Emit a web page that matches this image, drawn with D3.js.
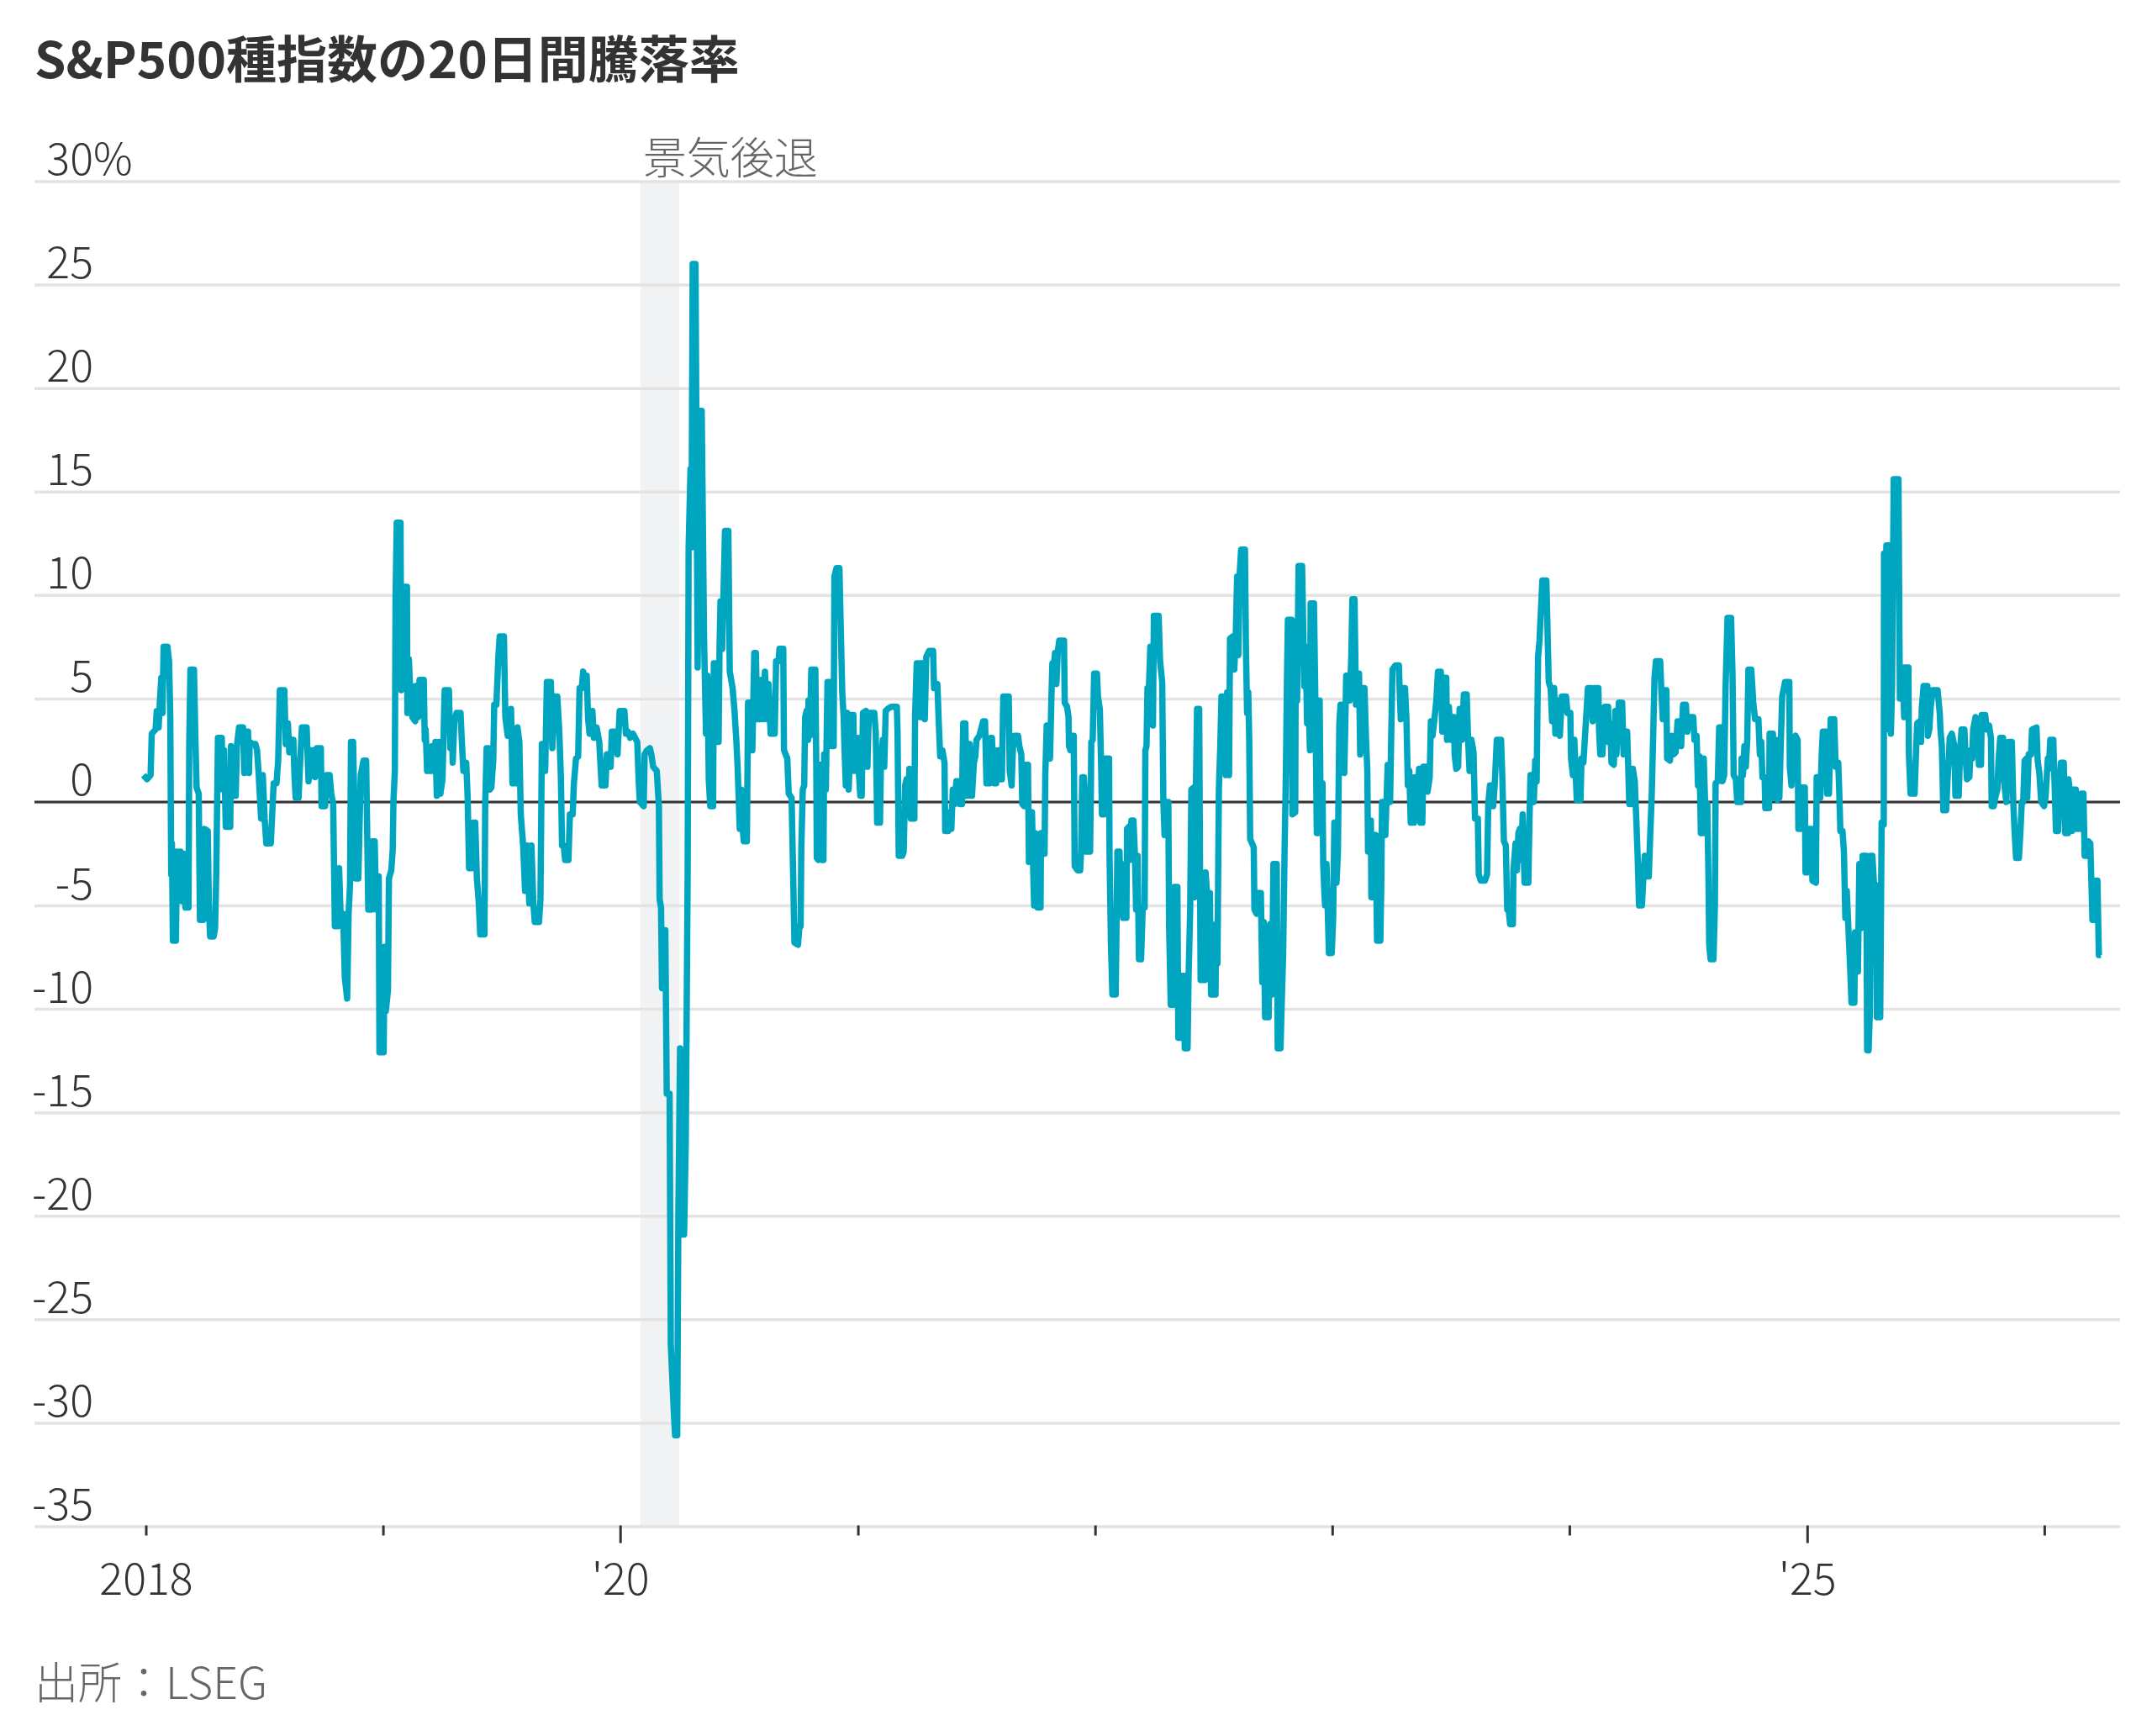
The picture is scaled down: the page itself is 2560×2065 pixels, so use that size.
<!DOCTYPE html>
<html><head><meta charset="utf-8">
<script src="https://cdn.jsdelivr.net/npm/d3@7"></script>
<style>
html,body{margin:0;padding:0;background:#fff;}
svg{display:block;}
text{font-family:'Noto Sans CJK JP','Noto Sans',sans-serif;}
</style></head>
<body>
<script>
// ---- DATA (decimal years, 20-day % change) ----
const dates = [
2017.990,2018.005,2018.020,2018.025,2018.041,2018.046,2018.054,2018.058,2018.065,2018.070,
2018.075,2018.091,2018.098,2018.103,2018.107,2018.110,2018.114,2018.127,2018.131,2018.138,
2018.146,2018.153,2018.159,2018.167,2018.180,2018.183,2018.188,2018.203,2018.209,2018.214,
2018.223,2018.228,2018.242,2018.247,2018.261,2018.266,2018.271,2018.286,2018.292,2018.297,
2018.304,2018.320,2018.325,2018.330,2018.337,2018.356,2018.359,2018.365,2018.379,2018.384,
2018.393,2018.410,2018.415,2018.419,2018.431,2018.435,2018.438,2018.450,2018.462,2018.469,
2018.476,2018.486,2018.493,2018.501,2018.508,2018.527,2018.532,2018.539,2018.551,2018.558,
2018.565,2018.584,2018.590,2018.599,2018.605,2018.611,2018.622,2018.627,2018.632,2018.644,
2018.651,2018.658,2018.678,2018.686,2018.698,2018.707,2018.713,2018.721,2018.738,2018.741,
2018.756,2018.762,2018.775,2018.782,2018.790,2018.797,2018.811,2018.815,2018.821,2018.832,
2018.839,2018.849,2018.855,2018.861,2018.865,2018.874,2018.880,2018.884,2018.896,2018.906,
2018.918,2018.929,
2018.938,2018.952,2018.956,2018.965,2018.971,2018.976,2018.982,2018.985,2019.003,2019.006,
2019.012,2019.021,2019.025,2019.035,2019.041,2019.044,2019.050,2019.053,2019.058,2019.074,
2019.077,2019.083,2019.101,2019.103,2019.109,2019.115,2019.124,2019.136,2019.138,2019.148,
2019.154,2019.172,2019.176,2019.180,2019.186,2019.203,2019.207,2019.215,2019.221,2019.227,
2019.235,2019.242,2019.251,2019.260,2019.278,2019.284,2019.290,2019.294,2019.301,2019.310,
2019.327,2019.333,2019.339,2019.351,2019.357,2019.363,2019.375,2019.381,2019.389,2019.396,
2019.404,2019.410,2019.428,2019.431,2019.437,2019.445,2019.451,2019.457,2019.465,2019.469,
2019.478,2019.487,2019.492,2019.510,2019.516,2019.526,2019.540,2019.546,2019.564,2019.567,
2019.575,2019.581,2019.591,2019.599,2019.608,2019.617,2019.626,2019.634,2019.640,2019.658,
2019.664,2019.670,2019.678,2019.684,2019.691,2019.708,2019.714,2019.723,2019.735,2019.743,
2019.750,2019.755,2019.762,2019.768,2019.782,2019.788,2019.800,2019.805,2019.814,2019.823,
2019.829,2019.838,2019.844,
2019.847,2019.859,2019.865,2019.871,2019.883,2019.889,2019.901,2019.912,2019.922,2019.938,
2019.944,2019.954,2019.960,2019.965,2019.983,2019.989,2019.998,2020.018,2020.024,2020.033,
2020.042,2020.054,2020.063,2020.072,2020.078,2020.083,2020.099,2020.103,2020.113,2020.125,
2020.131,2020.139,2020.154,2020.163,2020.166,2020.172,2020.176,2020.186,2020.190,2020.196,
2020.208,2020.213,2020.225,2020.231,2020.240,2020.245,2020.252,2020.260,2020.269,2020.276,
2020.284,2020.288,2020.296,2020.300,2020.305,2020.317,2020.326,2020.335,2020.343,2020.353,
2020.361,2020.367,2020.373,2020.379,2020.391,2020.394,2020.408,2020.414,2020.418,2020.422,
2020.429,2020.441,2020.455,2020.461,2020.473,2020.481,2020.489,2020.494,2020.503,2020.509,
2020.514,2020.520,2020.533,2020.538,2020.550,2020.556,2020.564,2020.571,2020.576,2020.585,
2020.591,2020.600,2020.609,2020.618,2020.624,2020.633,2020.650,2020.656,2020.666,2020.670,
2020.686,2020.689,2020.703,2020.709,2020.721,2020.727,2020.733,
2020.748,2020.754,2020.759,2020.762,2020.768,2020.774,2020.778,2020.784,2020.790,2020.792,
2020.798,2020.804,2020.821,2020.825,2020.827,2020.833,2020.841,2020.849,2020.855,2020.858,
2020.865,2020.872,2020.884,2020.889,2020.898,2020.901,2020.910,2020.922,2020.928,2020.934,
2020.940,2020.943,2020.949,2020.955,2020.961,2020.973,2020.981,2020.984,2020.993,2020.999,
2021.004,2021.010,2021.016,2021.021,2021.034,2021.040,2021.046,2021.069,2021.075,2021.079,
2021.081,2021.093,2021.097,2021.105,2021.111,2021.117,2021.126,2021.140,2021.164,2021.167,
2021.172,2021.187,2021.193,2021.199,2021.205,2021.211,2021.217,2021.223,2021.238,2021.241,
2021.248,2021.258,2021.264,2021.270,2021.280,2021.282,2021.288,2021.300,2021.317,2021.321,
2021.335,2021.341,2021.347,2021.356,2021.365,2021.368,2021.380,2021.385,2021.394,2021.400,
2021.408,2021.415,2021.424,2021.430,2021.439,2021.441,2021.444,2021.453,2021.458,2021.465,
2021.471,2021.474,2021.481,2021.489,2021.495,2021.500,2021.512,2021.528,2021.536,2021.542,
2021.554,2021.560,2021.565,2021.574,2021.583,2021.589,2021.595,2021.601,2021.607,2021.613,
2021.636,2021.640,2021.648,
2021.654,2021.660,2021.675,2021.681,2021.689,2021.693,2021.701,2021.707,2021.717,2021.721,
2021.731,2021.734,2021.740,2021.743,2021.748,2021.757,2021.770,2021.772,2021.778,2021.787,
2021.790,2021.796,2021.804,2021.810,2021.816,2021.820,2021.827,2021.831,2021.837,2021.843,
2021.849,2021.869,2021.872,2021.882,2021.888,2021.890,2021.896,2021.902,2021.910,2021.914,
2021.926,2021.937,2021.941,2021.946,2021.953,2021.957,2021.963,2021.979,2021.982,2021.984,
2021.990,2021.996,2022.008,2022.012,2022.020,2022.026,2022.029,2022.038,2022.044,2022.059,
2022.061,2022.067,2022.073,2022.087,2022.091,2022.094,2022.103,2022.109,2022.112,2022.118,
2022.132,2022.135,2022.142,2022.147,2022.153,2022.162,2022.168,2022.173,2022.179,2022.185,
2022.194,2022.201,2022.209,2022.212,2022.217,2022.221,2022.227,2022.233,2022.241,2022.244,
2022.248,2022.268,2022.274,2022.283,2022.288,2022.293,2022.300,2022.303,2022.309,2022.312,
2022.319,2022.331,2022.335,2022.347,2022.351,2022.362,2022.366,2022.374,2022.378,2022.390,
2022.394,2022.401,2022.406,2022.416,2022.419,2022.425,2022.430,2022.439,2022.445,2022.463,
2022.466,2022.472,2022.477,2022.484,2022.489,2022.508,2022.510,2022.516,2022.522,2022.528,
2022.533,2022.543,2022.551,2022.557,
2022.565,2022.569,2022.581,2022.587,2022.593,2022.599,2022.604,2022.610,2022.616,2022.632,
2022.636,2022.641,2022.646,2022.650,2022.654,2022.662,2022.669,2022.672,2022.681,2022.687,
2022.699,2022.705,2022.711,2022.717,2022.732,2022.738,2022.746,2022.752,2022.766,2022.770,
2022.782,2022.788,2022.793,2022.799,2022.805,2022.809,2022.813,2022.829,2022.832,2022.844,
2022.846,2022.852,2022.858,2022.873,2022.882,2022.888,2022.894,2022.900,2022.906,2022.909,
2022.923,2022.929,2022.935,2022.941,2022.947,2022.950,2022.959,2022.962,2022.967,2022.970,
2022.976,2022.986,2022.998,2023.004,2023.009,2023.018,2023.024,2023.030,2023.035,2023.047,
2023.051,2023.059,2023.069,2023.073,2023.080,2023.085,2023.094,2023.100,2023.109,2023.113,
2023.118,2023.124,2023.136,2023.142,2023.148,2023.151,2023.156,2023.163,2023.165,2023.171,
2023.175,2023.183,2023.189,2023.203,2023.207,2023.210,2023.218,2023.224,2023.234,2023.244,
2023.248,2023.254,2023.266,2023.281,2023.286,2023.289,2023.295,2023.307,2023.313,2023.319,
2023.325,2023.331,2023.345,2023.348,2023.354,2023.360,2023.366,2023.372,2023.380,2023.384,
2023.396,2023.402,2023.411,2023.416,2023.423,2023.431,2023.439,2023.446,2023.458,
2023.464,2023.469,2023.481,2023.484,2023.492,2023.500,2023.504,2023.514,2023.516,2023.523,
2023.531,2023.537,2023.547,2023.555,2023.567,2023.573,2023.579,2023.587,2023.596,2023.602,
2023.614,2023.618,2023.626,2023.644,2023.653,2023.658,2023.665,2023.673,2023.679,2023.685,
2023.694,2023.712,2023.717,2023.724,2023.732,2023.738,2023.744,2023.750,2023.762,2023.764,
2023.773,2023.779,2023.785,2023.791,2023.797,2023.803,2023.811,2023.827,2023.832,2023.836,
2023.844,2023.850,2023.856,2023.862,2023.868,2023.874,2023.886,2023.903,2023.913,2023.921,
2023.927,2023.936,2023.941,2023.951,2023.960,2023.968,2023.986,2023.992,2024.004,2024.007,
2024.015,2024.021,2024.031,2024.047,2024.051,2024.059,2024.069,2024.078,2024.092,2024.098,
2024.106,2024.122,2024.125,2024.130,2024.139,2024.149,2024.163,2024.165,2024.172,2024.177,
2024.187,2024.193,2024.198,2024.208,2024.222,2024.228,2024.236,2024.243,2024.246,2024.252,
2024.260,2024.267,2024.275,2024.281,2024.287,2024.293,2024.305,2024.311,2024.317,2024.322,
2024.334,2024.340,2024.346,2024.352,2024.358,2024.364,
2024.382,2024.387,2024.393,2024.399,2024.408,2024.411,2024.423,2024.431,2024.438,2024.447,
2024.455,2024.464,2024.470,2024.478,2024.490,2024.496,2024.506,2024.521,2024.526,2024.535,
2024.541,2024.547,2024.553,2024.561,2024.565,2024.571,2024.580,2024.585,2024.588,2024.594,
2024.606,2024.612,2024.615,2024.624,2024.630,2024.641,2024.644,2024.651,2024.657,2024.665,
2024.680,2024.686,2024.691,2024.700,2024.706,2024.722,2024.724,2024.730,2024.736,2024.742,
2024.748,2024.753,2024.765,2024.774,2024.781,2024.795,2024.801,2024.807,2024.812,2024.821,
2024.824,2024.840,2024.842,2024.856,2024.860,2024.868,2024.875,2024.883,2024.889,2024.895,
2024.907,2024.925,2024.927,2024.934,2024.942,2024.951,2024.960,2024.963,2024.972,2024.978,
2024.990,2024.993,2025.001,2025.007,2025.019,2025.022,2025.037,2025.040,2025.049,2025.055,
2025.061,2025.066,2025.081,2025.084,2025.092,2025.099,2025.114,2025.120,2025.131,2025.135,
2025.140,2025.149,2025.155,2025.161,2025.167,2025.182,2025.187,2025.199,2025.202,2025.214,
2025.220,2025.226,2025.234,2025.249,2025.253,
2025.259,2025.264,2025.267,2025.275,2025.282,2025.288,2025.294,2025.308,2025.314,2025.323,
2025.324,2025.330,2025.334,2025.350,2025.353,2025.358,2025.365,2025.385,2025.389,2025.391,
2025.401,2025.403,2025.409,2025.415,2025.427,2025.429,2025.436,2025.453,2025.460,2025.464,
2025.474,2025.480,2025.483,2025.491,2025.507,2025.509,2025.515,2025.521,2025.529,2025.550,
2025.559,2025.562,2025.568,2025.574,2025.586,2025.592,2025.598,2025.601,2025.610,2025.621,
2025.625,2025.639,2025.645,2025.651,2025.663,2025.669,2025.674,2025.684,2025.689,2025.696,
2025.700,2025.710,2025.719,2025.724,2025.733,2025.736,2025.751,2025.757,2025.767,2025.775,
2025.778,2025.787,2025.793,2025.802,2025.807,2025.814,2025.826,2025.830,2025.840,2025.849,
2025.863,2025.869,2025.875,2025.881,2025.893,2025.899,2025.905,2025.911,2025.917,2025.925,
2025.928,2025.934,2025.944,2025.948,2025.967,2025.972,2025.979,2025.987,2025.999,2026.005,
2026.015,2026.019,2026.025,2026.038,2026.043,2026.049,2026.058,2026.064,2026.070,2026.082,
2026.088,2026.100,2026.102,2026.111,2026.117,2026.123,2026.133,2026.137,2026.149,2026.156,
2026.165,2026.170,2026.180,2026.186,2026.194,2026.203,2026.212,2026.218,2026.224,2026.230,2026.239
];
const values = [
1.3,1.1,1.3,3.3,3.5,4.4,3.6,4.6,6.0,4.3,
7.5,7.5,6.8,4.1,-3.5,-2.0,-6.7,-6.7,-2.4,-4.7,
-2.4,-4.8,-2.5,-5.1,-5.1,2.8,6.4,6.4,3.0,0.7,
0.4,-5.7,-5.7,-1.3,-1.4,-5.1,-6.5,-6.5,-6.1,-3.4,
3.1,3.1,0.6,2.5,-1.2,-1.2,2.7,0.3,0.3,2.7,
3.6,3.6,1.4,3.4,3.4,1.4,2.9,2.8,2.8,2.5,
1.3,-0.8,1.3,-0.8,-2.0,-2.0,-0.8,0.9,0.9,2.0,
5.4,5.4,2.8,3.8,2.4,3.0,3.0,1.2,0.2,0.2,
2.0,3.6,3.6,1.0,2.5,2.5,1.2,2.6,2.6,-0.2,
-0.2,1.3,1.3,0.4,-0.1,-6.0,-6.0,-3.2,-5.4,-5.4,
-8.5,-9.5,-5.4,-4.0,2.9,2.9,-0.6,-3.7,-3.7,1.3,
2.0,2.0,
-5.2,-5.2,-1.9,-1.9,-5.2,-3.6,-3.6,-12.1,-12.1,-7.0,
-10.1,-9.1,-3.7,-3.3,-2.3,0.0,1.5,9.9,13.5,13.5,
5.4,10.4,10.4,4.3,6.9,5.3,4.1,3.9,5.6,4.1,
5.9,5.9,3.0,3.5,1.5,1.5,2.7,1.5,2.9,0.3,
2.9,0.4,1.1,5.4,5.4,2.6,3.9,1.9,3.9,4.3,
4.3,2.8,1.5,1.9,0.2,-3.2,-3.2,-1.0,-1.0,-3.7,
-4.9,-6.4,-6.4,-0.2,2.6,2.6,0.6,0.7,2.0,4.7,
4.7,7.1,8.0,8.0,4.1,3.2,4.5,0.9,0.9,3.6,
2.9,-0.6,-2.1,-4.3,-2.1,-4.9,-2.1,-4.9,-5.8,-5.8,
-4.7,2.8,2.8,1.5,5.8,5.8,2.6,5.1,5.1,3.5,
1.3,-2.1,-2.1,-2.8,-2.8,-0.6,-0.6,0.9,2.1,2.2,
5.5,5.5,6.3,
6.1,6.1,4.0,3.3,4.4,3.1,3.6,2.9,0.8,0.8,
2.3,2.3,1.7,3.4,3.4,2.3,4.4,4.4,3.3,3.4,
3.1,3.3,3.1,2.9,1.0,0.0,-0.2,2.3,2.5,2.6,
2.3,1.7,1.5,-0.2,-4.7,-5.1,-9.0,-9.0,-6.2,-14.1,
-14.1,-26.2,-29.3,-30.6,-30.6,-19.8,-11.9,-20.9,-20.9,-16.4,
-3.2,12.3,16.1,12.3,26.0,26.0,6.5,18.9,18.9,7.8,
3.3,6.1,1.0,-0.2,-0.2,6.7,6.7,2.9,7.4,9.7,
7.4,13.1,13.1,6.3,5.5,4.4,2.9,1.7,-1.3,0.6,
-1.1,-1.9,-1.9,4.8,4.8,2.5,7.2,7.2,4.0,4.0,
5.9,4.0,6.3,4.0,5.7,3.3,3.3,6.8,6.8,7.4,
7.4,2.5,2.1,0.4,0.2,-3.2,-6.8,
-6.9,-6.0,-6.0,-2.2,0.6,0.8,4.1,4.4,3.0,4.9,
3.2,6.4,6.4,1.5,-2.7,-2.8,1.8,-2.8,-2.8,2.3,
0.6,5.8,5.8,2.7,2.7,10.9,11.3,11.3,8.3,5.3,
4.1,2.8,0.8,4.3,0.6,4.2,4.2,1.5,3.1,3.1,
1.4,0.3,0.3,4.3,4.4,1.7,4.3,4.3,3.4,0.6,
-1.0,-1.0,1.9,3.0,1.7,4.4,4.5,4.6,4.6,3.4,
-2.6,-2.6,-2.4,0.8,1.1,0.0,1.6,-0.8,-0.8,4.2,
6.7,6.7,4.1,6.7,6.7,4.0,7.0,7.3,7.3,5.5,
5.7,3.8,2.2,2.5,1.9,-1.4,-1.4,-0.5,-1.3,0.6,
-0.1,1.0,1.0,-0.1,-0.1,1.9,3.8,3.8,0.3,2.8,
2.8,0.3,0.3,1.9,2.2,3.0,3.2,3.9,3.9,0.9,
0.9,3.1,3.1,0.9,0.9,2.5,2.5,1.1,1.1,5.1,
5.1,1.5,0.8,
2.7,3.2,3.2,2.7,2.3,-0.1,-0.2,1.8,1.8,-2.9,
-2.9,-0.5,-3.7,-5.0,-1.5,-5.1,-5.1,-1.5,-2.5,-2.5,
1.3,3.7,3.7,2.1,5.1,6.7,6.7,7.2,5.7,7.3,
7.8,7.8,4.8,4.6,4.1,2.7,2.5,3.2,3.2,-3.1,
-3.3,-3.3,-2.4,1.2,1.2,0.4,-2.4,-2.4,0.4,2.9,
3.0,6.2,6.2,5.1,4.5,1.5,-0.6,-0.6,2.1,2.1,
-2.6,-6.9,-9.3,-9.3,-5.4,-2.4,-2.4,-5.4,-3.0,-5.6,
-5.6,-1.3,-1.2,-2.8,-0.9,-0.9,-2.6,-5.2,-2.6,-7.6,
-7.6,-5.1,-5.1,2.5,2.7,5.5,5.5,7.5,7.5,3.7,
9.0,9.0,6.8,5.8,0.0,-1.6,-1.6,0.0,0.0,-5.9,
-9.8,-9.8,-4.1,-4.1,-11.4,-11.4,-8.4,-8.4,-11.9,-11.9,
-8.6,-5.2,0.6,0.7,-4.6,0.6,4.5,4.5,-8.6,-8.6,
-3.4,-4.4,-7.4,-4.4,-9.3,-9.3,-5.9,-7.8,0.6,2.7,
5.1,5.1,1.3,5.3,
1.3,7.9,8.0,6.4,8.0,10.9,7.1,11.1,12.2,12.2,
7.5,4.3,5.3,3.0,-1.8,-2.0,-2.2,-5.2,-5.4,-4.4,
-4.4,-8.7,-5.8,-10.4,-10.4,-5.9,-9.3,-3.0,-3.0,-11.9,
-11.9,-9.3,-7.4,-2.4,1.7,5.8,8.8,8.8,-0.6,-0.5,
6.6,4.9,11.4,11.4,5.6,7.5,3.8,4.9,2.5,9.6,
9.6,4.9,-1.5,-1.5,4.9,0.9,0.9,-3.0,-4.4,-5.0,
-3.0,-7.3,-7.3,-5.6,-1.0,-3.9,-2.4,3.8,4.7,4.7,
1.4,6.1,6.1,4.9,6.8,9.8,9.8,4.7,6.2,6.2,
2.3,5.5,5.5,3.2,1.5,-2.4,-0.9,-0.9,-4.6,-4.6,
-1.6,-1.6,-6.7,-6.7,-3.9,0.0,0.0,-1.6,1.8,0.0,
2.7,6.4,6.6,6.6,4.9,4.0,5.5,5.5,4.0,0.8,
1.5,-1.0,-1.0,1.2,1.2,-0.3,1.6,-1.0,-1.0,1.7,
1.7,0.5,1.2,3.9,3.2,4.0,4.9,6.3,6.3,
3.4,6.0,6.0,3.0,4.6,3.0,4.1,4.1,2.3,1.6,
1.7,4.5,3.0,5.2,5.2,3.0,1.5,3.0,2.4,-0.8,
-0.8,-3.5,-3.8,-3.8,-3.5,-0.1,0.8,0.8,-0.2,0.8,
3.0,3.0,1.3,-1.9,-2.1,-5.2,-5.2,-5.9,-5.9,-3.3,
-2.0,-3.3,-1.5,-1.3,-2.8,-0.6,-3.9,-3.9,-0.7,1.3,
1.3,0.0,2.0,1.0,7.0,7.8,10.7,10.7,5.8,5.5,
3.9,5.5,3.3,4.9,3.2,5.1,5.1,4.3,4.3,2.1,
1.3,3.0,0.1,0.1,2.1,1.9,3.8,5.5,5.5,3.9,
5.5,5.5,3.4,2.3,2.3,4.6,4.6,2.9,3.8,1.9,
1.8,4.4,2.3,4.8,4.8,2.3,3.4,3.4,2.3,-0.1,
-0.1,1.6,1.0,-0.7,-2.6,-5.0,-5.0,-3.7,-2.6,-3.6,
-3.6,-1.6,0.2,3.0,6.0,6.8,
6.8,5.3,4.0,5.4,5.4,2.1,2.0,3.2,2.3,2.4,
3.9,3.9,2.7,4.7,4.7,3.4,4.1,4.1,3.0,3.2,
0.8,2.2,-1.5,-1.5,2.1,-0.1,-0.1,-3.7,-6.9,-7.6,
-7.6,-5.0,0.9,1.0,3.6,3.6,1.0,1.3,5.6,8.9,
8.9,6.2,1.3,1.1,0.0,0.0,2.1,1.3,2.7,1.7,
3.0,6.4,6.4,4.7,4.0,4.0,2.3,2.9,1.2,1.2,
-0.3,-0.3,3.3,3.3,0.2,3.0,0.1,0.2,2.8,5.1,
5.8,5.8,1.7,0.8,3.0,3.2,3.0,-1.3,-1.3,0.7,
0.7,-3.4,-3.4,-1.3,-1.3,-3.8,-3.9,1.2,1.2,0.2,
2.2,3.4,3.4,0.4,0.4,4.0,4.0,1.7,1.9,0.6,
-1.4,-1.4,-2.4,-5.6,-4.3,-8.2,-9.7,-9.7,-6.3,-8.2,
-3.0,-6.1,-2.6,-2.6,-12.0,
-12.0,-10.3,-2.6,-2.6,-4.0,-4.0,-10.4,-10.4,-1.0,-1.1,
12.0,3.5,12.4,12.4,3.3,5.6,15.6,15.6,8.1,5.0,
5.0,6.5,4.1,6.5,6.5,2.3,0.4,0.4,2.7,3.8,
3.9,2.9,4.5,5.6,5.6,3.2,3.5,4.6,5.4,5.4,
4.3,3.5,2.7,-0.4,-0.4,1.1,2.3,3.1,3.3,2.7,
0.3,0.3,2.5,3.5,3.5,2.0,1.1,1.2,2.5,2.1,
3.5,4.1,3.9,1.8,1.8,4.2,4.2,3.5,3.7,3.1,
-0.2,-0.2,0.2,0.6,2.0,3.1,3.1,1.0,0.0,2.9,
2.9,0.0,-1.5,-2.7,-2.7,-1.5,0.0,0.0,2.0,2.1,
0.2,2.3,2.3,3.5,3.6,2.0,1.4,0.0,-0.2,0.2,
2.1,1.6,3.0,3.0,1.0,-1.4,-1.4,0.6,1.9,1.9,
-1.5,-1.5,1.1,0.2,-1.4,0.6,0.6,-1.3,-1.3,0.4,
0.4,-2.6,-2.6,-1.9,-2.0,-5.7,-5.7,-3.8,-3.8,-7.4,-7.4
];
const yTicks = [30,25,20,15,10,5,0,-5,-10,-15,-20,-25,-30,-35];
const xTickYears = [2018,2019,2020,2021,2022,2023,2024,2025,2026];
const xTickLabels = {2018:"2018", 2020:"'20", 2025:"'25"};
const recession = [[2020,1,1],[2020,3,1]]; // Feb 2020 – Mar 2020
const titleText = "S&P500種指数の20日間騰落率";
const recessionLabel = "景気後退";
const sourceText = "出所：LSEG";

// ---- helpers ----
function decToDate(v){
  const yr = Math.floor(v);
  const s = Date.UTC(yr,0,1), e = Date.UTC(yr+1,0,1);
  return new Date(s + (v - yr) * (e - s));
}
const n = Math.min(dates.length, values.length);
if (dates.length !== values.length) console.warn("length mismatch", dates.length, values.length);
const series = d3.range(n).map(i => ({date: decToDate(dates[i]), value: values[i]}));

// ---- layout ----
const W = 2560, H = 2065;
const gridX0 = 41, gridX1 = 2522;
const x = d3.scaleUtc()
  .domain([new Date(Date.UTC(2018,0,1)), new Date(Date.UTC(2026,0,1))])
  .range([173.5, 2431.9]);
const y = d3.scaleLinear().domain([-35, 30]).range([1815.5, 215.5]);

const svg = d3.select("body").append("svg")
  .attr("width", W).attr("height", H).attr("viewBox", `0 0 ${W} ${H}`);
svg.append("rect").attr("width", W).attr("height", H).attr("fill", "#fff");

// title
svg.append("text").attr("x", 41).attr("y", 93)
  .attr("font-size", 60).attr("font-weight", 700).attr("fill", "#333")
  .text(titleText);

// recession shading
const r0 = new Date(Date.UTC(...recession[0])), r1 = new Date(Date.UTC(...recession[1]));
svg.append("rect")
  .attr("x", x(r0)).attr("width", x(r1) - x(r0))
  .attr("y", y(30)).attr("height", y(-35) - y(30))
  .attr("fill", "#f1f2f4");
svg.append("text").attr("x", x(r0) + 3).attr("y", y(30) - 9)
  .attr("font-size", 52).attr("font-weight", 300).attr("fill", "#666")
  .text(recessionLabel);

// gridlines
const grid = svg.append("g")
  .attr("transform", `translate(${gridX0},0)`)
  .call(d3.axisRight(y).tickValues(yTicks).tickSize(gridX1 - gridX0).tickFormat(""));
grid.select(".domain").remove();
grid.selectAll(".tick line").attr("stroke", "#e3e3e3").attr("stroke-width", 3.5);

// y labels
const yl = svg.append("g")
  .attr("transform", `translate(111,0)`)
  .call(d3.axisLeft(y).tickValues(yTicks).tickSize(0).tickPadding(0).tickFormat(d => d));
yl.select(".domain").remove();
yl.selectAll(".tick text")
  .attr("dy", null).attr("y", -8)
  .attr("font-family", "'Noto Sans CJK JP','Noto Sans',sans-serif")
  .attr("font-size", 52).attr("font-weight", 300).attr("fill", "#333");
yl.selectAll(".tick").filter(d => d === 30)
  .append("text").attr("x", 0).attr("y", -8).attr("text-anchor", "start")
  .attr("font-size", 52).attr("font-weight", 300).attr("fill", "#333")
  .text("%");

// zero line
svg.append("line")
  .attr("x1", gridX0).attr("x2", gridX1).attr("y1", y(0)).attr("y2", y(0))
  .attr("stroke", "#333").attr("stroke-width", 3);

// x axis
const xa = svg.append("g")
  .attr("transform", `translate(0,${y(-35) - 1})`)
  .call(d3.axisBottom(x)
    .tickValues(xTickYears.map(yy => new Date(Date.UTC(yy,0,1))))
    .tickSize(12)
    .tickFormat(d => xTickLabels[d.getUTCFullYear()] || ""));
xa.select(".domain").remove();
xa.selectAll(".tick line")
  .attr("stroke", "#333").attr("stroke-width", 3)
  .attr("y2", d => (d.getUTCFullYear() === 2020 || d.getUTCFullYear() === 2025) ? 21 : 12);
xa.selectAll(".tick text")
  .attr("dy", null).attr("y", 1897 - (y(-35) - 1))
  .attr("font-family", "'Noto Sans CJK JP','Noto Sans',sans-serif")
  .attr("font-size", 52).attr("font-weight", 300).attr("fill", "#333");

// series line
const line = d3.line().x(d => x(d.date)).y(d => y(d.value));
svg.append("path").datum(series)
  .attr("d", line)
  .attr("fill", "none")
  .attr("stroke", "#00a6c0")
  .attr("stroke-width", 7.5)
  .attr("stroke-linejoin", "round");

// source
svg.append("text").attr("x", 41).attr("y", 2021)
  .attr("font-size", 52).attr("font-weight", 300).attr("fill", "#666")
  .text(sourceText);
</script>
</body></html>
